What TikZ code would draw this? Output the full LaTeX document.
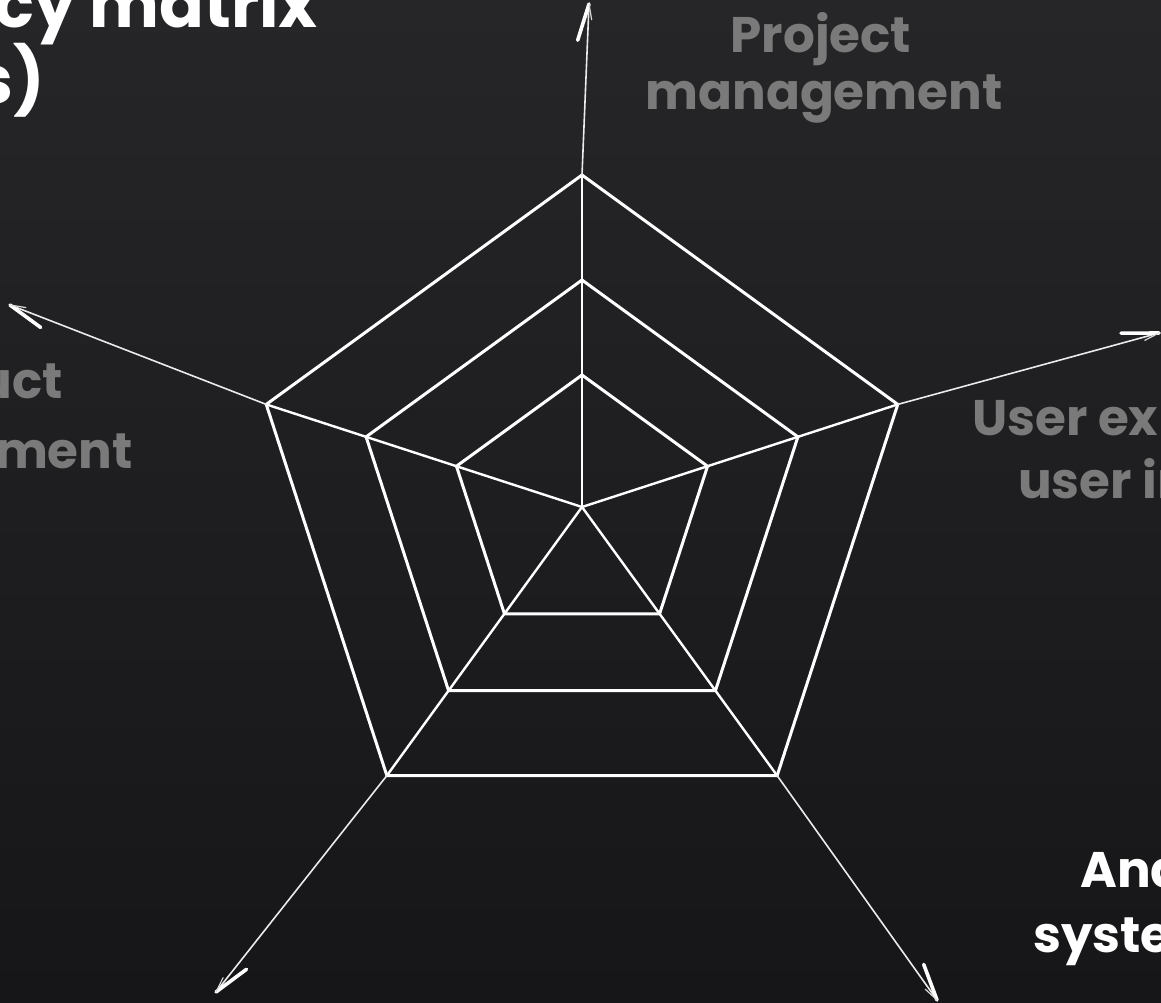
\documentclass[tikz,border=0pt]{standalone}
\usepackage{fontspec}
\setmainfont{Poppins}
\usetikzlibrary{calc}
\definecolor{boardtop}{RGB}{38,38,40}
\definecolor{boardbottom}{RGB}{22,22,24}
\definecolor{chalkgrey}{RGB}{122,122,122}
\begin{document}
\begin{tikzpicture}[x=1pt,y=-1pt,
  web/.style={draw=white, line width=3pt, line join=miter},
  spoke/.style={draw=white, line width=2.4pt},
  chalkline/.style={draw=white!92!black, line width=1.6pt, line cap=round},
  barb/.style={draw=white, line width=3.6pt, line cap=round},
  thinbarb/.style={draw=white!85!black, line width=1.2pt, line cap=round},
  greylabel/.style={text=chalkgrey, font=\bfseries\fontsize{50}{60}\selectfont, inner sep=0pt},
  whitelabel/.style={text=white, font=\bfseries\fontsize{50}{60}\selectfont, inner sep=0pt},
  titlelabel/.style={text=white, font=\bfseries\fontsize{66}{76}\selectfont, inner sep=0pt}]
\useasboundingbox (0,0) rectangle (1161,1003);
\shade[top color=boardtop, bottom color=boardbottom] (0,0) rectangle (1161,1003);
\clip (0,0) rectangle (1161,1003);

% centre of the radar chart and the three pentagon rings
\coordinate (c) at (582,507);
\foreach \r/\n in {332/o, 227/m, 132/i} {
  \foreach \a/\k in {-90/1, -18/2, 54/3, 126/4, 198/5}
    \coordinate (\n\k) at ($(c)+(\a:\r)$);
}

\foreach \n in {o, m, i}
  \draw[web] (\n1) -- (\n2) -- (\n3) -- (\n4) -- (\n5) -- cycle;

% arrow tips of the five axes
\coordinate (t1) at (589,4);
\coordinate (t2) at (1159,333);
\coordinate (t3) at (937,1000);
\coordinate (t4) at (216,992);
\coordinate (t5) at (10,305);

\foreach \k in {1,...,5} {
  \draw[spoke] (c) -- (o\k);
  \draw[chalkline] (o\k) -- (t\k);
  \draw[barb] (t\k) -- ($(t\k)!38pt!-15:(o\k)$);
  \draw[thinbarb] (t\k) -- ($(t\k)!16pt!12:(o\k)$);
}

% axis labels
\node[greylabel, anchor=base] (pm1) at (821,53) {Project};
\node[greylabel, anchor=base] (pm2) at (824,110) {management};
\node[greylabel, anchor=base east] (pd1) at (63,398) {Product};
\node[greylabel, anchor=base east] (pd2) at (133,468) {management};
\node[greylabel, anchor=base west] (ux1) at (972,435) {User experience};
\node[greylabel, anchor=base west] (ux2) at (1018,498) {user interface};
\node[whitelabel, anchor=base west] (an1) at (1080,887) {Analysis and};
\node[whitelabel, anchor=base west] (an2) at (1033,952) {system design};

% title
\node[titlelabel, anchor=base east] (tt1) at (318,28) {Competency matrix};
\node[titlelabel, anchor=base east] (tt2) at (45,104) {(skills)};
\end{tikzpicture}
\end{document}
